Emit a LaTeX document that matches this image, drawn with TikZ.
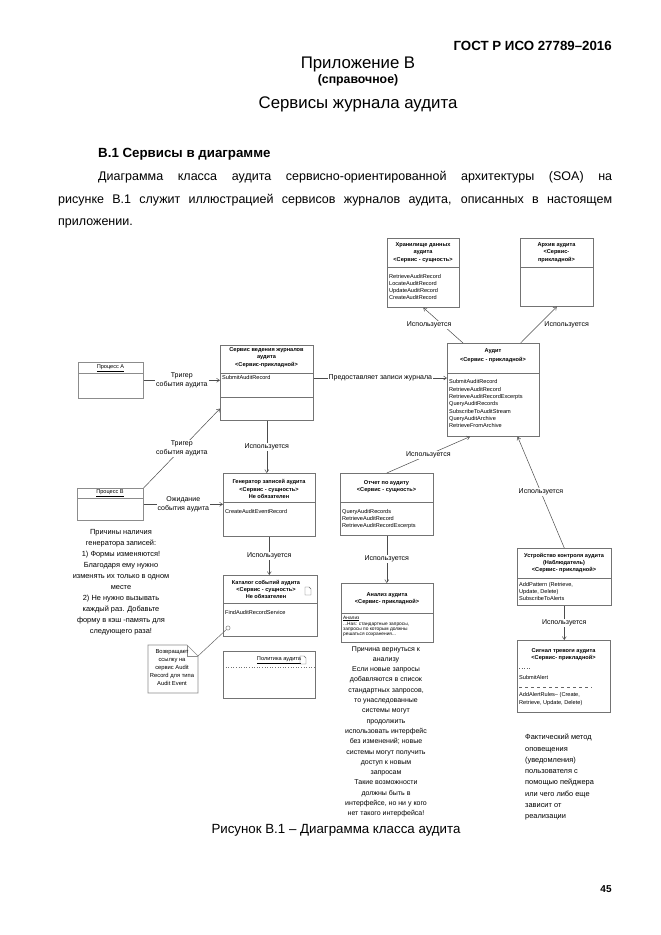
\documentclass[tikz,border=0pt]{standalone}
\usepackage{fontspec}
\setmainfont{Liberation Sans}
\usetikzlibrary{positioning, calc, arrows.meta}
\tikzset{
  classbox/.style={draw=black!55, line width=0.6pt},
  clstitle/.style={font=\fontsize{5.6}{7.2}\selectfont\bfseries, align=center, inner sep=0pt},
  clsops/.style={font=\fontsize{5.6}{7.3}\selectfont, align=left, inner sep=0pt, anchor=north west},
  uselbl/.style={font=\fontsize{7}{8.6}\selectfont, fill=white, inner sep=1pt, align=center},
  notetxt/.style={font=\fontsize{7.4}{11}\selectfont, align=center, inner sep=0pt, anchor=north},
  pagetxt/.style={inner sep=0pt},
  uses/.style={-{Straight Barb[length=3pt,width=4pt]}, draw=black!70, line width=0.5pt},
  pageicon/.style={draw=black!60, line width=0.4pt},
}
\begin{document}
\begin{tikzpicture}[x=1pt, y=-1pt]

    \fill[white] (0,0) rectangle (661,935);
    \useasboundingbox (0,0) rectangle (661,935);

    % =========================================================================
    % PAGE HEADER AND TEXT
    % =========================================================================
    \node[pagetxt, anchor=east, font=\fontsize{13.3}{15}\selectfont\bfseries] (std_code) at (612,46) {ГОСТ Р ИСО 27789–2016};
    \node[pagetxt, font=\fontsize{16.8}{19}\selectfont] (annex) at (358,64) {Приложение В};
    \node[pagetxt, font=\fontsize{12.3}{14}\selectfont\bfseries] (annex_kind) at (358,80) {(справочное)};
    \node[pagetxt, font=\fontsize{16.8}{19}\selectfont] (annex_title) at (358,104) {Сервисы журнала аудита};

    \node[pagetxt, anchor=west, font=\fontsize{13.3}{15}\selectfont\bfseries] (sect) at (98,154) {В.1 Сервисы в диаграмме};
    \node[pagetxt, anchor=west, font=\fontsize{12.5}{14}\selectfont] (par_one) at (98,177)
        {\makebox[514pt][s]{Диаграмма класса аудита сервисно-ориентированной архитектуры (SOA) на}};
    \node[pagetxt, anchor=west, font=\fontsize{12.5}{14}\selectfont] (par_two) at (58,200)
        {\makebox[554pt][s]{рисунке В.1 служит иллюстрацией сервисов журналов аудита, описанных в настоящем}};
    \node[pagetxt, anchor=west, font=\fontsize{12.5}{14}\selectfont] (par_three) at (58,223) {приложении.};

    % =========================================================================
    % TOP ROW: Storage and Archive
    % =========================================================================
    \node[classbox, minimum width=72pt, minimum height=69pt, anchor=north west] (store) at (387,238) {};
    \draw[classbox] (store.west |- 0,267) -- (store.east |- 0,267);
    \node[clstitle] (store_name) at (423,252.5) {Хранилище данных\\аудита\\<Сервис - сущность>};
    \node[clsops, font=\fontsize{5.6}{7}\selectfont] (store_ops) at (389,274.5)
        {RetrieveAuditRecord\\LocateAuditRecord\\UpdateAuditRecord\\CreateAuditRecord};

    \node[classbox, minimum width=73pt, minimum height=68pt, anchor=north west] (archive) at (520,238) {};
    \draw[classbox] (archive.west |- 0,267) -- (archive.east |- 0,267);
    \node[clstitle] (archive_name) at (556.5,252.5) {Архив аудита\\<Сервис-\\прикладной>};

    % =========================================================================
    % MIDDLE ROW: Process A, Log service, Audit
    % =========================================================================
    \node[classbox, draw=black!45, minimum width=65pt, minimum height=36pt, anchor=north west] (proc_a) at (78,362) {};
    \draw[classbox, draw=black!45] (proc_a.west |- 0,373) -- (proc_a.east |- 0,373);
    \node[pagetxt, font=\fontsize{5.6}{7}\selectfont] (proc_a_name) at (110.5,368) {\underline{Процесс А}};

    \node[classbox, minimum width=93pt, minimum height=75pt, anchor=north west] (log_svc) at (220,345) {};
    \draw[classbox] (log_svc.west |- 0,373) -- (log_svc.east |- 0,373);
    \draw[classbox] (log_svc.west |- 0,397) -- (log_svc.east |- 0,397);
    \node[clstitle] (log_svc_name) at (266.5,357.5) {Сервис ведения журналов\\аудита\\<Сервис-прикладной>};
    \node[clsops] (log_svc_ops) at (222,375.5) {SubmitAuditRecord};

    \node[classbox, minimum width=92pt, minimum height=93pt, anchor=north west] (audit) at (447,343) {};
    \draw[classbox] (audit.west |- 0,373) -- (audit.east |- 0,373);
    \node[clstitle, font=\fontsize{5.6}{9}\selectfont\bfseries] (audit_name) at (493,355.5) {Аудит\\<Сервис - прикладной>};
    \node[clsops, font=\fontsize{5.6}{7.35}\selectfont] (audit_ops) at (449,379.5)
        {SubmitAuditRecord\\RetrieveAuditRecord\\RetrieveAuditRecordExcerpts\\QueryAuditRecords\\SubscribeToAuditStream\\QueryAuditArchive\\RetrieveFromArchive};

    % =========================================================================
    % LOWER ROWS: Process B, Generator, Catalog, Policy, Report, Analysis
    % =========================================================================
    \node[classbox, draw=black!45, minimum width=66pt, minimum height=32pt, anchor=north west] (proc_b) at (77,488) {};
    \draw[classbox, draw=black!45] (proc_b.west |- 0,498) -- (proc_b.east |- 0,498);
    \node[pagetxt, font=\fontsize{5.6}{7}\selectfont] (proc_b_name) at (110,493) {\underline{Процесс В}};

    \node[notetxt] (gen_note) at (121,529)
        {Причины наличия\\генератора записей:\\1) Формы изменяются!\\Благодаря ему нужно\\изменять их только в одном\\месте\\2) Не нужно вызывать\\каждый раз. Добавьте\\форму в кэш -память для\\следующего раза!};

    \node[classbox, minimum width=92pt, minimum height=63pt, anchor=north west] (gen) at (223,473) {};
    \draw[classbox] (gen.west |- 0,502) -- (gen.east |- 0,502);
    \node[clstitle] (gen_name) at (269,489) {Генератор записей аудита\\<Сервис - сущность>\\Не обязателен};
    \node[clsops] (gen_ops) at (225,509.5) {CreateAuditEventRecord};

    \node[classbox, minimum width=94pt, minimum height=61pt, anchor=north west] (cat) at (223,575) {};
    \draw[classbox] (cat.west |- 0,603) -- (cat.east |- 0,603);
    \node[clstitle] (cat_name) at (266,589.5) {Каталог событий аудита\\<Сервис - сущность>\\Не обязателен};
    \draw[pageicon] (305,587) -- (309,587) -- (311,589) -- (311,595) -- (305,595) -- cycle;
    \node[clsops] (cat_ops) at (225,610.5) {FindAuditRecordService};
    \node[circle, draw=black!60, line width=0.4pt, inner sep=1.5pt] (cat_hook) at (228,628) {};

    \node[classbox, minimum width=92pt, minimum height=47pt, anchor=north west] (policy) at (223,651) {};
    \draw[classbox, dotted] (policy.west |- 0,667) -- (policy.east |- 0,667);
    \node[pagetxt, font=\fontsize{5.6}{7}\selectfont] (policy_name) at (279,660) {\underline{Политика аудита}};
    \draw[pageicon] (300,656) -- (304,656) -- (306,658) -- (306,664) -- (300,664) -- cycle;

    % callout with folded corner
    \draw[classbox, draw=black!45] (148,645) -- (187,645) -- (198,656) -- (198,693) -- (148,693) -- cycle;
    \draw[classbox, draw=black!45] (187,645) -- (187,656) -- (198,656);
    \coordinate (callout_tip) at (198,656);
    \node[pagetxt, align=center, anchor=north, font=\fontsize{5.8}{8}\selectfont] (callout) at (172,649)
        {Возвращает\\ссылку на\\сервис Audit\\Record для типа\\Audit Event};

    \node[classbox, minimum width=93pt, minimum height=62pt, anchor=north west] (report) at (340,473) {};
    \draw[classbox] (report.west |- 0,502) -- (report.east |- 0,502);
    \node[clstitle] (report_name) at (386.5,486.5) {Отчет по аудиту\\<Сервис - сущность>};
    \node[clsops, font=\fontsize{5.6}{7}\selectfont] (report_ops) at (342,509.5)
        {QueryAuditRecords\\RetrieveAuditRecord\\RetrieveAuditRecordExcerpts};

    \node[classbox, minimum width=92pt, minimum height=59pt, anchor=north west] (anal) at (341,583) {};
    \draw[classbox] (anal.west |- 0,613) -- (anal.east |- 0,613);
    \node[clstitle] (anal_name) at (387,598.5) {Анализ аудита\\<Сервис- прикладной>};
    \node[clsops, font=\fontsize{4.8}{5.2}\selectfont] (anal_ops) at (343,615.5)
        {\underline{Анализ}\\...Has: стандартные запросы,\\запросы по которым должны\\решаться сохранения...};

    \node[notetxt, font=\fontsize{7}{10.3}\selectfont] (anal_note) at (386,646)
        {Причина вернуться к\\анализу\\Если новые запросы\\добавляются в список\\стандартных запросов,\\то унаследованные\\системы могут\\продолжить\\использовать интерфейс\\без изменений; новые\\системы могут получить\\доступ к новым\\запросам\\Такие возможности\\должны быть в\\интерфейсе, но ни у кого\\нет такого интерфейса!};

    % =========================================================================
    % RIGHT COLUMN: Monitor and Alarm
    % =========================================================================
    \node[classbox, minimum width=94pt, minimum height=57pt, anchor=north west] (monitor) at (517,548) {};
    \draw[classbox] (monitor.west |- 0,578) -- (monitor.east |- 0,578);
    \node[clstitle] (monitor_name) at (564,563) {Устройство контроля аудита\\(Наблюдатель)\\<Сервис- прикладной>};
    \node[clsops, font=\fontsize{5.6}{7}\selectfont] (monitor_ops) at (519,582.5)
        {AddPattern (Retrieve,\\Update, Delete)\\SubscribeToAlerts};

    \node[classbox, minimum width=93pt, minimum height=72pt, anchor=north west] (alarm) at (517,640) {};
    \node[clstitle] (alarm_name) at (563.5,654.5) {Сигнал тревоги аудита\\<Сервис- прикладной>};
    \draw[black!60, line width=0.5pt, dotted] (519,668) -- (530,668);
    \node[clsops] (alarm_submit) at (519,675.5) {SubmitAlert};
    \draw[black!60, line width=0.5pt, dashed] (519,687) -- (592,687);
    \node[clsops, font=\fontsize{5.6}{7.8}\selectfont] (alarm_rules) at (519,692.5)
        {AddAlertRules– (Create,\\Retrieve, Update, Delete)};

    \node[notetxt, anchor=north west, align=left, font=\fontsize{7.4}{11.3}\selectfont] (alarm_note) at (525,734)
        {Фактический метод\\оповещения\\(уведомления)\\пользователя с\\помощью пейджера\\или чего либо еще\\зависит от\\реализации};

    % =========================================================================
    % CONNECTORS
    % =========================================================================
    \coordinate (feed_y) at (0,378);
    \coordinate (trig_b_end) at ($(log_svc.south west)+(0,-12)$);

    \draw[uses] (proc_a.east) -- node[uselbl] (trig_a_lbl) {Тригер\\события аудита} (proc_a.east -| log_svc.west);
    \draw[uses] (proc_b.north east) -- node[uselbl] (trig_b_lbl) {Тригер\\события аудита} (trig_b_end);
    \draw[uses] (proc_b.east) -- node[uselbl] (wait_lbl) {Ожидание\\события аудита} (proc_b.east -| gen.west);

    \draw[uses] (log_svc.east |- feed_y) -- node[uselbl] (feed_lbl) {Предоставляет записи журнала} (audit.west |- feed_y);

    \draw[uses] ($(audit.north west)+(16,0)$) -- node[uselbl, xshift=-14pt] (uses_store) {Используется} (store.south);
    \draw[uses] ($(audit.north east)+(-19,0)$) -- node[uselbl, xshift=28pt] (uses_archive) {Используется} (archive.south);

    \draw[uses] (log_svc.south) -- node[uselbl] (uses_gen) {Используется} (log_svc.south |- gen.north);
    \draw[uses] (gen.south) -- node[uselbl] (uses_cat) {Используется} (gen.south |- cat.north);

    \draw[uses] (report.north) -- node[uselbl] (uses_audit_a) {Используется} ($(audit.south west)+(23,0)$);
    \draw[uses] (report.south) -- node[uselbl] (uses_anal) {Используется} (report.south |- anal.north);

    \draw[uses] (monitor.north) -- node[uselbl] (uses_audit_b) {Используется} ($(audit.south east)+(-22,0)$);
    \draw[uses] (monitor.south) -- node[uselbl] (uses_alarm) {Используется} (monitor.south |- alarm.north);

    \draw[black!60, line width=0.5pt] (cat_hook) -- (callout_tip);

    % =========================================================================
    % CAPTION AND PAGE NUMBER
    % =========================================================================
    \node[pagetxt, font=\fontsize{13.3}{15}\selectfont] (caption) at (336,830) {Рисунок В.1 – Диаграмма класса аудита};
    \node[pagetxt, font=\fontsize{10}{12}\selectfont\bfseries] (page_no) at (606,889) {45};

\end{tikzpicture}
\end{document}
